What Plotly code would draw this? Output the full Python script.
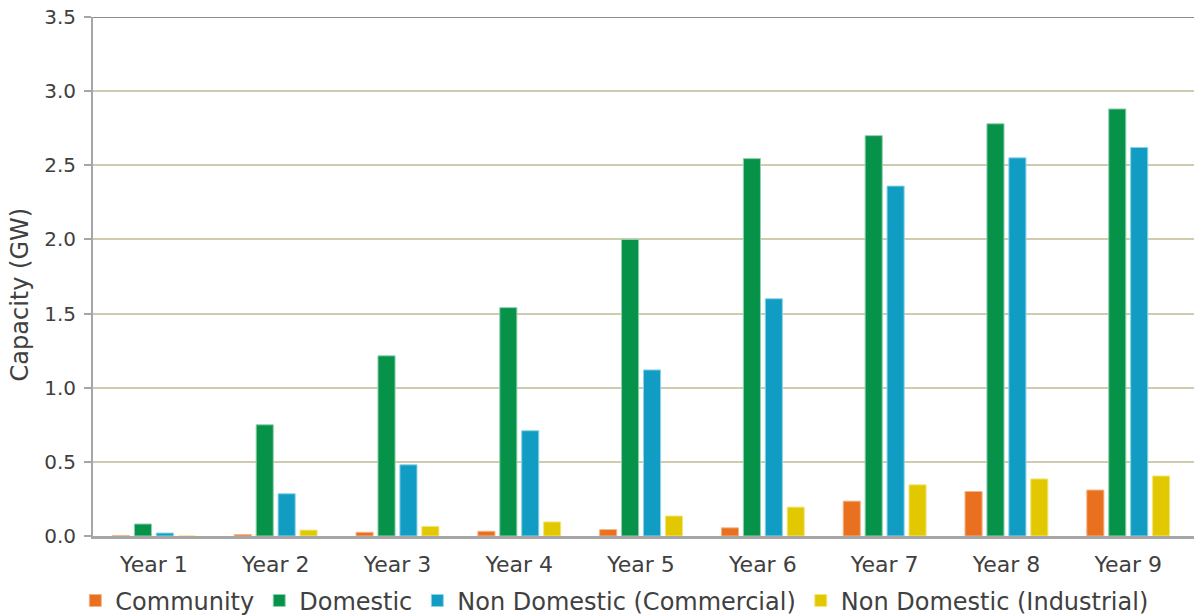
import plotly.graph_objects as go

years = ["Year 1", "Year 2", "Year 3", "Year 4", "Year 5", "Year 6", "Year 7", "Year 8", "Year 9"]

community = [0.002, 0.01, 0.025, 0.032, 0.043, 0.055, 0.235, 0.30, 0.31]
domestic = [0.081, 0.75, 1.215, 1.54, 2.0, 2.545, 2.70, 2.78, 2.88]
commercial = [0.02, 0.285, 0.48, 0.71, 1.12, 1.60, 2.36, 2.55, 2.62]
industrial = [0.0, 0.04, 0.065, 0.095, 0.135, 0.195, 0.345, 0.385, 0.405]

series = [
    ("Community", community, "#E8701E", "#F4B48A"),
    ("Domestic", domestic, "#07924A", "#8FD1AE"),
    ("Non Domestic (Commercial)", commercial, "#119DC3", "#8CD3E8"),
    ("Non Domestic (Industrial)", industrial, "#E2C800", "#F2E680"),
]

y_ticks = [0.0, 0.5, 1.0, 1.5, 2.0, 2.5, 3.0, 3.5]

FONT = "DejaVu Sans, Verdana, sans-serif"
TEXT = "#404040"

fig = go.Figure()
for name, vals, color, edge in series:
    fig.add_trace(go.Bar(
        name=name, x=years, y=vals,
        marker=dict(color=color, line=dict(color=edge, width=1)),
    ))

fig.update_layout(
    width=1194, height=616,
    margin=dict(l=93, r=0, t=17, b=80, autoexpand=False),
    plot_bgcolor="white", paper_bgcolor="white",
    barmode="group", bargap=0.28, bargroupgap=0.22,
    font=dict(family=FONT, color=TEXT, size=20),
    showlegend=True,
    legend=dict(
        orientation="h", xref="container", yref="paper",
        x=0.5145, xanchor="center", y=-0.125, yanchor="middle",
        font=dict(size=24, color=TEXT, family=FONT),
        itemclick=False, traceorder="normal",
    ),
    xaxis=dict(
        range=[-0.5, 8.54],
        showline=True, linecolor="#A6A6A6", linewidth=3,
        ticks="", showgrid=False, zeroline=False,
        tickfont=dict(size=22, color=TEXT),
        ticklabelstandoff=7,
    ),
    yaxis=dict(
        range=[0, 3.5], tickvals=y_ticks,
        ticktext=[f"{v:.1f}" for v in y_ticks],
        showline=True, linecolor="#A6A6A6", linewidth=2,
        ticks="outside", ticklen=7, tickcolor="#A6A6A6", tickwidth=2,
        showgrid=True, gridcolor="#D0CBAE", gridwidth=2,
        zeroline=False,
        tickfont=dict(size=20, color=TEXT),
        ticklabelstandoff=4,
    ),
    shapes=[dict(
        type="line", xref="paper", yref="y", x0=0, x1=1, y0=3.5, y1=3.5,
        line=dict(color="#8C8C88", width=2),
    )],
    annotations=[dict(
        text="Capacity (GW)", textangle=-90,
        xref="paper", yref="paper",
        x=-0.0665, xanchor="center", y=0.465, yanchor="middle",
        showarrow=False, font=dict(size=24, color=TEXT, family=FONT),
    )],
)

fig.write_html("out.html")
